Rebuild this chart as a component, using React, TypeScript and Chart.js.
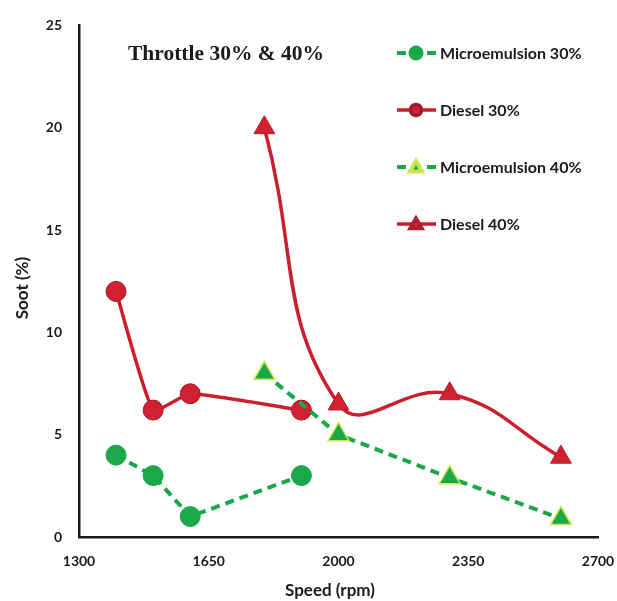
import React, { useEffect, useRef } from "react";
import { Chart, registerables } from "chart.js";
import { drawPoint } from "chart.js/helpers";

Chart.register(...registerables);

// ---- data ----
const chartTitle = "Throttle 30% & 40%";
const xAxisTitle = "Speed (rpm)";
const yAxisTitle = "Soot (%)";
const seriesLabels = ["Microemulsion 30%", "Diesel 30%", "Microemulsion 40%", "Diesel 40%"];

const speedsM30 = [1400, 1500, 1600, 1900];
const sootM30 = [4.0, 3.0, 1.0, 3.0];
const speedsD30 = [1400, 1500, 1600, 1900];
const sootD30 = [12.0, 6.2, 7.0, 6.2];
const speedsM40 = [1800, 2000, 2300, 2600];
const sootM40 = [8.0, 5.0, 2.9, 0.9];
const speedsD40 = [1800, 2000, 2300, 2600];
const sootD40 = [20.0, 6.5, 7.0, 3.9];

const xTicks = [1300, 1650, 2000, 2350, 2700];
const yTicks = [0, 5, 10, 15, 20, 25];

const GREEN = "#1aa84b";
const RED = "#cc1f2e";
const TEXT = "#1a1a1a";
const CLEAR = "rgba(0,0,0,0)";

const pts = (xs: number[], ys: number[]) => xs.map((x, i) => ({ x, y: ys[i] }));

const overlayPlugin = {
  id: "overlay",
  afterDraw(chart: any) {
    const ctx = chart.ctx as CanvasRenderingContext2D;
    ctx.save();
    // title
    ctx.fillStyle = TEXT;
    ctx.textBaseline = "middle";
    ctx.textAlign = "left";
    ctx.font = 'bold 21.5px "Liberation Serif"';
    ctx.fillText(chartTitle, 128, 54);

    // axis titles
    ctx.font = "bold 17px Lato";
    ctx.textAlign = "center";
    ctx.fillText(xAxisTitle, 330, 591);
    ctx.save();
    ctx.translate(23, 288);
    ctx.rotate(-Math.PI / 2);
    ctx.fillText(yAxisTitle, 0, 0);
    ctx.restore();

    // legend
    chart.data.datasets.forEach((ds: any, i: number) => {
      const y = 53 + i * 57;
      ctx.strokeStyle = ds.borderColor;
      ctx.lineWidth = ds.borderWidth;
      ctx.setLineDash(ds.borderDash || []);
      ctx.beginPath();
      ctx.moveTo(397, y);
      ctx.lineTo(436, y);
      ctx.stroke();
      ctx.setLineDash([]);
      ctx.fillStyle = ds.pointBackgroundColor;
      ctx.strokeStyle = ds.pointBorderColor;
      const tri = ds.pointStyle === "triangle";
      drawPoint(
        ctx,
        {
          pointStyle: ds.pointStyle,
          radius: tri ? 7 : 5.5,
          rotation: 0,
          borderWidth: tri ? 0.8 : ds.pointBorderWidth,
        } as any,
        416,
        tri ? y + 1 : y
      );
      ctx.fillStyle = TEXT;
      ctx.font = "bold 16px Lato";
      ctx.textAlign = "left";
      ctx.textBaseline = "middle";
      ctx.fillText(ds.label, 440, y + 1);
    });
    ctx.restore();
  },
};

export default function App() {
  const ref = useRef<HTMLCanvasElement | null>(null);

  useEffect(() => {
    if (!ref.current) return;
    const chart = new Chart(ref.current, {
      type: "line",
      data: {
        datasets: [
          {
            label: seriesLabels[0],
            data: pts(speedsM30, sootM30),
            borderColor: GREEN,
            borderWidth: 4,
            borderDash: [9, 6],
            pointStyle: "circle",
            pointRadius: 10,
            pointBackgroundColor: GREEN,
            pointBorderColor: GREEN,
            pointBorderWidth: 1,
            tension: 0,
            order: 1,
          },
          {
            label: seriesLabels[1],
            data: pts(speedsD30, sootD30),
            borderColor: RED,
            borderWidth: 3.5,
            pointStyle: "circle",
            pointRadius: 10,
            pointBackgroundColor: "#d1202f",
            pointBorderColor: "#a01a35",
            pointBorderWidth: 1,
            tension: 0.15,
            order: 2,
          },
          {
            label: seriesLabels[2],
            data: pts(speedsM40, sootM40),
            borderColor: GREEN,
            borderWidth: 4,
            borderDash: [9, 6],
            pointStyle: "triangle",
            pointRadius: 12,
            pointBackgroundColor: GREEN,
            pointBorderColor: "#c9e84d",
            pointBorderWidth: 1.5,
            tension: 0,
            order: 0,
          },
          {
            label: seriesLabels[3],
            data: pts(speedsD40, sootD40),
            borderColor: RED,
            borderWidth: 3.5,
            pointStyle: "triangle",
            pointRadius: 12,
            pointBackgroundColor: "#d1202f",
            pointBorderColor: "#b01c30",
            pointBorderWidth: 1,
            tension: 0.45,
            order: 3,
          },
        ] as any,
      },
      options: {
        responsive: false,
        animation: false,
        maintainAspectRatio: false,
        layout: { padding: { top: 22, right: 19, left: 0, bottom: 0 } },
        plugins: {
          legend: { display: false },
          tooltip: { enabled: false },
          title: { display: false },
        },
        scales: {
          x: {
            type: "linear",
            min: 1300,
            max: 2700,
            afterBuildTicks: (s: any) => {
              s.ticks = xTicks.map((v) => ({ value: v }));
            },
            afterFit: (s: any) => {
              s.height = 64;
            },
            grid: { display: true, color: CLEAR, tickColor: CLEAR, drawTicks: true, tickLength: 16 },
            border: { display: true, color: TEXT, width: 2.5 },
            ticks: {
              padding: 0,
              color: TEXT,
              font: { family: "Lato", weight: "bold", size: 14 },
              callback: (v: any) => String(v),
            },
            title: { display: false },
          },
          y: {
            type: "linear",
            min: 0,
            max: 25,
            afterBuildTicks: (s: any) => {
              s.ticks = yTicks.map((v) => ({ value: v }));
            },
            afterFit: (s: any) => {
              s.width = 79;
            },
            grid: { display: false, drawTicks: false },
            border: { display: true, color: TEXT, width: 2.5 },
            ticks: {
              padding: 17,
              color: TEXT,
              font: { family: "Lato", weight: "bold", size: 14 },
              callback: (v: any) => String(v),
            },
            title: { display: false },
          },
        },
      } as any,
      plugins: [overlayPlugin],
    });
    return () => chart.destroy();
  }, []);

  return (
    <div style={{ position: "absolute", left: 0, top: 0, width: 617, height: 601, background: "#fff" }}>
      <canvas ref={ref} width={617} height={601} />
    </div>
  );
}
